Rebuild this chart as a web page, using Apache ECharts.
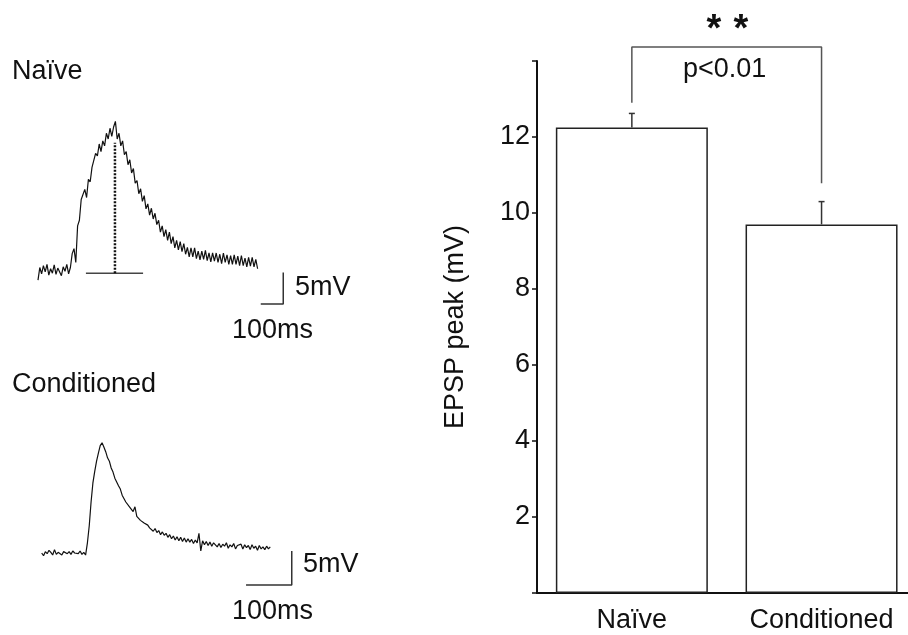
<!DOCTYPE html>
<html>
<head>
<meta charset="utf-8">
<script src="https://cdn.jsdelivr.net/npm/echarts@6/dist/echarts.min.js"></script>
<style>
  html, body { margin: 0; padding: 0; background: #fff; overflow: hidden; }
  /* the bar panel's x-axis runs off the right edge of the page */
  #chart { width: 920px; height: 635px; }
</style>
</head>
<body>
<div id="chart"></div>
<script>
// ---- Example EPSP traces (mV), sampled every dt ms ----
const naiveDt = 8;
const naiveTrace = [
  -1.6, 0.4, -0.6, 0.7, -0.3, 0.9, -0.8, 0.2, -0.5, 0.8, -0.7, 0.3, 0.6, -0.9, 0.5, -0.2, 0.9, -0.6, 0.4,
  2.6, 3.4, 1.2,
  7.0, 7.9, 11.2, 11.0, 12.8, 11.5, 14.4, 14.0, 16.3, 16.0, 18.5, 18.1, 20.0, 18.8, 20.5, 19.7, 21.7, 20.8, 22.5, 21.2, 22.7,
  23.6,
  20.8, 21.7, 19.7, 20.5, 18.3, 18.8, 16.7, 17.5, 15.4, 16.1,
  13.8, 14.2, 12.1, 12.9, 10.9, 11.8, 9.7, 10.5, 8.7, 9.8,
  8.1, 9.0, 7.2, 7.9, 6.0, 7.0, 5.3, 6.4, 4.7, 6.0,
  4.2, 5.3, 3.5, 4.7, 3.2, 4.5, 2.9, 4.2, 2.5, 3.6,
  2.1, 3.5, 2.1, 3.5, 1.8, 3.0, 1.6, 3.0, 1.7, 3.1,
  1.5, 2.7, 1.3, 2.7, 1.4, 2.7, 1.2, 2.5, 1.0, 2.7,
  1.2, 2.4, 0.9, 2.3, 0.9, 2.4, 0.9, 2.2, 0.7, 2.3,
  0.7, 1.9, 0.5, 2.0, 0.6, 2.0, 0.5, 1.7, 0.2
];
// peak measurement marker on the naive trace: [time ms, mV]
const naivePeak = [342, 20.2];
const naiveBaseline = [[213, -0.5], [467, -0.5]];

const condDt = 4;
const conditionedTrace = [
  0.0, -0.4, 0.2, -0.1, 0.4, 0.1, -0.3, 0.5, -0.2, 0.1, 0.3, -0.3, 0.2, 0.4, -0.1, 0.2, -0.2, 0.3, 0.0, 0.2, -0.1, 0.3, -0.2, 0.1, -0.3,
  1.5, 4.0, 7.5, 10.3, 12.0, 13.5, 14.7, 15.8, 16.2, 15.6, 14.9, 14.0, 13.5, 12.5, 11.9, 11.0, 10.8, 9.9, 9.4, 8.5,
  8.3, 7.5, 7.4, 6.8, 6.6, 6.1, 6.8, 5.4, 5.6, 4.8, 5.0, 4.4, 4.3, 4.1, 3.7, 3.8,
  3.2, 3.6, 3.0, 3.3, 2.7, 3.1, 2.6, 2.9, 2.3, 2.7,
  2.1, 2.5, 1.9, 2.4, 1.8, 2.3, 1.7, 2.2, 1.6, 2.1,
  1.6, 2.0, 1.4, 1.9, 1.5, 2.9, 0.3, 1.8, 1.2, 1.7, 1.1, 1.6, 1.0, 1.5, 1.2,
  0.9, 1.4, 0.8, 1.3, 1.0, 1.5, 0.7, 1.2, 0.9, 1.4, 0.6, 1.1, 0.9, 1.3, 0.6, 1.2, 0.8, 1.1, 0.5, 1.2,
  0.7, 1.0, 0.4, 1.1, 0.6, 0.9, 0.5, 1.0, 0.6, 0.9
];

// scale bars: 100 ms x 5 mV
const scaleTime = 100;
const scaleVolt = 5;

// ---- Group summary ----
const groups = ['Naïve', 'Conditioned'];
const peakMean = [12.25, 9.7];
const peakSem = [0.37, 0.6];
const yTickLabels = [2, 4, 6, 8, 10, 12];
// significance bracket: [left leg end, top, right leg end] (mV)
const bracket = [12.9, 14.37, 10.78];

const FONT = '"Liberation Sans", Arial, Helvetica, sans-serif';
const toXY = (arr, dt) => arr.map((v, i) => [i * dt, v]);
const scaleBar = (t0, v0) => [[t0, v0], [t0 + scaleTime, v0], [t0 + scaleTime, v0 + scaleVolt]];

const chart = echarts.init(document.getElementById('chart'), null, { renderer: 'canvas' });

const hiddenAxis = (idx, min, max) => ({
  gridIndex: idx, type: 'value', min, max, show: false
});

const textEl = (text, x, y, extra) => ({
  type: 'text', x, y, silent: true,
  style: Object.assign({ text, font: '27px ' + FONT, fill: '#111', verticalAlign: 'middle', align: 'left' }, extra || {})
});

chart.setOption({
  animation: false,
  backgroundColor: '#fff',
  grid: [
    { left: 38, top: 118.8, width: 247.5, height: 189 },
    { left: 41.7, top: 430.6, width: 256, height: 163.2 },
    { left: 537, top: 61, width: 379.4, height: 532 }
  ],
  xAxis: [
    hiddenAxis(0, 0, 1100),
    hiddenAxis(1, 0, 560),
    {
      gridIndex: 2, type: 'category', data: groups,
      axisLine: { lineStyle: { color: '#111', width: 2 } },
      axisTick: { show: false },
      axisLabel: { interval: 0, fontSize: 27, fontFamily: FONT, color: '#111', margin: 14 }
    }
  ],
  yAxis: [
    hiddenAxis(0, -6, 24),
    hiddenAxis(1, -6, 18),
    {
      gridIndex: 2, type: 'value', min: 0, max: 14, interval: 2,
      name: 'EPSP peak (mV)', nameLocation: 'middle', nameGap: 68, nameRotate: 90,
      nameTextStyle: { fontSize: 27, fontFamily: FONT, color: '#111' },
      axisLine: { show: true, lineStyle: { color: '#111', width: 2 } },
      axisTick: { show: true, length: 5, lineStyle: { color: '#111', width: 1.5 } },
      axisLabel: {
        fontSize: 27, fontFamily: FONT, color: '#111', margin: 7,
        formatter: v => (yTickLabels.indexOf(v) >= 0 ? String(v) : '')
      },
      splitLine: { show: false }
    }
  ],
  series: [
    {
      type: 'line', xAxisIndex: 0, yAxisIndex: 0, data: toXY(naiveTrace, naiveDt),
      symbol: 'none', lineStyle: { color: '#111', width: 1.2 }
    },
    {
      type: 'line', xAxisIndex: 0, yAxisIndex: 0, data: naiveBaseline,
      symbol: 'none', lineStyle: { color: '#444', width: 1.5 }
    },
    {
      type: 'line', xAxisIndex: 0, yAxisIndex: 0,
      data: [[naivePeak[0], naiveBaseline[0][1]], naivePeak],
      symbol: 'none', lineStyle: { color: '#111', width: 2.5, type: [2, 1.5] }
    },
    {
      type: 'line', xAxisIndex: 0, yAxisIndex: 0, data: scaleBar(990, -5.4),
      symbol: 'none', lineStyle: { color: '#333', width: 1.5 }
    },
    {
      type: 'line', xAxisIndex: 1, yAxisIndex: 1, data: toXY(conditionedTrace, condDt),
      symbol: 'none', lineStyle: { color: '#111', width: 1.2 }
    },
    {
      type: 'line', xAxisIndex: 1, yAxisIndex: 1, data: scaleBar(447, -4.7),
      symbol: 'none', lineStyle: { color: '#333', width: 1.5 }
    },
    {
      type: 'bar', xAxisIndex: 2, yAxisIndex: 2, data: peakMean, barWidth: 152,
      itemStyle: { color: '#fff', borderColor: '#222', borderWidth: 1.5 }
    },
    {
      type: 'custom', xAxisIndex: 2, yAxisIndex: 2, z: 5,
      data: peakMean.map((m, i) => [i, m, m + peakSem[i]]),
      renderItem: (params, api) => {
        const base = api.coord([api.value(0), api.value(1)]);
        const top = api.coord([api.value(0), api.value(2)]);
        const style = { stroke: '#333', lineWidth: 1.5 };
        return {
          type: 'group',
          children: [
            { type: 'line', shape: { x1: base[0], y1: base[1], x2: top[0], y2: top[1] }, style },
            { type: 'line', shape: { x1: top[0] - 3, y1: top[1], x2: top[0] + 3, y2: top[1] }, style }
          ]
        };
      }
    },
    {
      type: 'line', xAxisIndex: 2, yAxisIndex: 2, clip: false,
      data: [[0, bracket[0]], [0, bracket[1]], [1, bracket[1]], [1, bracket[2]]],
      symbol: 'none', lineStyle: { color: '#555', width: 1.5 }
    }
  ],
  graphic: [
    textEl('Naïve', 12, 72),
    textEl('Conditioned', 12, 385),
    textEl('5mV', 295, 288),
    textEl('100ms', 232, 331),
    textEl('5mV', 303, 565),
    textEl('100ms', 232, 612),
    textEl('p<0.01', 683, 70),
    textEl('*', 714, 31, { align: 'center', font: 'bold 38px ' + FONT }),
    textEl('*', 741, 31, { align: 'center', font: 'bold 38px ' + FONT })
  ]
});
</script>
</body>
</html>
